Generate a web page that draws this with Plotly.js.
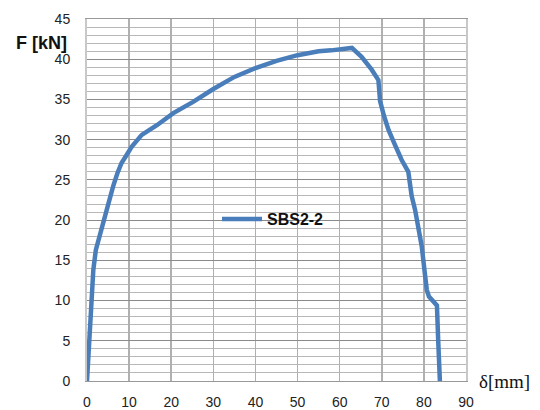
<!DOCTYPE html>
<html>
<head>
<meta charset="utf-8">
<script src="https://cdn.plot.ly/plotly-3.0.1.min.js"></script>
<style>html,body{margin:0;padding:0;background:#fff}#chart{width:540px;height:410px}</style>
</head>
<body>
<div id="chart"></div>
<script>
const seriesName = "SBS2-2";
const deflection = [0, 0.3, 0.5, 0.9, 1.5, 2.1, 2.7, 3.5, 4.3, 5.2, 6.2, 7.2, 8.2, 9.3, 10.6, 13, 16.6, 20.5, 25.2, 30, 35, 40, 45, 50, 55, 58, 61, 62.9, 65.2, 67.6, 69.2, 69.6, 70.5, 71.6, 73, 74.7, 76.3, 77.1, 77.9, 78.7, 79.5, 80.2, 80.7, 81.2, 81.9, 83.1, 83.4, 83.8];
const force =      [0, 3, 6.3, 9.7, 13.8, 16.3, 17.5, 18.8, 20.4, 22.2, 24.2, 25.8, 27.1, 28.0, 29.1, 30.6, 31.8, 33.3, 34.7, 36.3, 37.8, 38.9, 39.8, 40.5, 41.0, 41.1, 41.3, 41.4, 40.3, 38.7, 37.4, 34.8, 33.0, 31.2, 29.5, 27.5, 26.0, 23.0, 21.3, 19.0, 16.7, 13.5, 11.3, 10.5, 10.1, 9.4, 5.0, 0];
const xTicks = [0, 10, 20, 30, 40, 50, 60, 70, 80, 90];
const yTicks = [0, 5, 10, 15, 20, 25, 30, 35, 40, 45];
const xTitle = "δ[mm]";
const yTitle = "F [kN]";

const tickFont = {family: "Liberation Sans, Arial, sans-serif", size: 14, color: "#222"};

const traces = [{
  x: deflection, y: force, type: "scatter", mode: "lines", name: seriesName,
  line: {color: "#4a7ebb", width: 4.5}
}];

const layout = {
  width: 540, height: 410,
  margin: {l: 87, r: 74, t: 19, b: 29},
  paper_bgcolor: "#fff", plot_bgcolor: "#fff",
  showlegend: true,
  legend: {x: 0.343, y: 0.447, xanchor: "left", yanchor: "middle", bgcolor: "rgba(0,0,0,0)",
    itemwidth: 40, font: {family: "Liberation Sans, Arial, sans-serif", size: 16, color: "#111", weight: "bold"}},
  xaxis: {
    range: [0, 90], tickvals: xTicks, ticktext: xTicks.map(String),
    showgrid: true, gridcolor: "#b0b0b0", gridwidth: 1.5,
    zeroline: false, showline: true, linecolor: "#999", linewidth: 1, mirror: true,
    ticks: "", ticklabelstandoff: 8, tickfont: tickFont, fixedrange: true
  },
  yaxis: {
    range: [0, 45], tickvals: yTicks, ticktext: yTicks.map(String),
    showgrid: true, gridcolor: "#8a8a8a", gridwidth: 1,
    minor: {dtick: 1, showgrid: true, gridcolor: "#b8b8b8", gridwidth: 1},
    zeroline: false, showline: true, linecolor: "#c8c8c8", linewidth: 2, mirror: true,
    ticks: "", ticklabelstandoff: 12, tickfont: tickFont, fixedrange: true
  },
  annotations: [
    {text: "<b>" + yTitle + "</b>", xref: "paper", yref: "paper", x: -0.193, y: 0.935,
     xanchor: "left", yanchor: "middle", showarrow: false,
     font: {family: "Liberation Sans, Arial, sans-serif", size: 18, color: "#111"}},
    {text: xTitle, xref: "paper", yref: "paper", x: 1.03, y: 0.0, xanchor: "left", yanchor: "middle",
     showarrow: false, font: {family: "Liberation Serif, Times New Roman, serif", size: 19, color: "#111"}}
  ]
};

Plotly.newPlot("chart", traces, layout, {displayModeBar: false, staticPlot: true});
</script>
</body>
</html>
